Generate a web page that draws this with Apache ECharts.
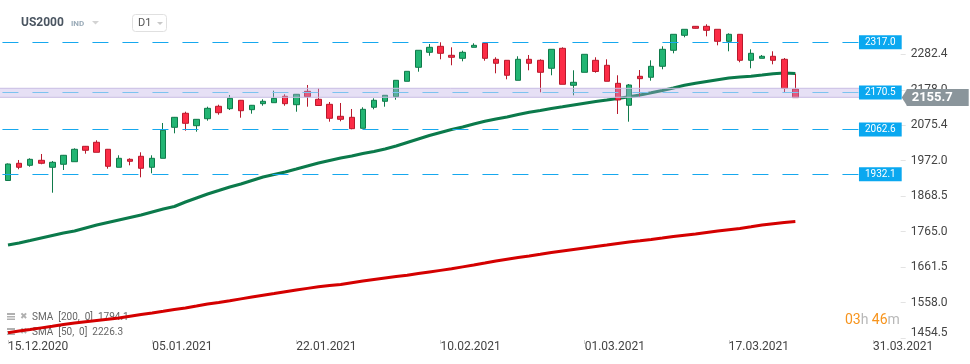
<!DOCTYPE html>
<html><head><meta charset="utf-8">
<script src="https://cdn.jsdelivr.net/npm/echarts@6/dist/echarts.min.js"></script>
<style>html,body{margin:0;padding:0;background:#fff}#c{width:970px;height:364px}</style>
</head><body><div id="c"></div>
<script>
const categories = ['15.12','16.12','17.12','18.12','21.12','22.12','23.12','24.12','28.12','29.12','30.12','31.12',
'04.01','05.01','06.01','07.01','08.01','11.01','12.01','13.01','14.01','15.01','18.01','19.01','20.01','21.01','22.01','25.01','26.01','27.01','28.01','29.01',
'01.02','02.02','03.02','04.02','05.02','08.02','09.02','10.02','11.02','12.02','15.02','16.02','17.02','18.02','19.02','22.02','23.02','24.02','25.02','26.02',
'01.03','02.03','03.03','04.03','05.03','08.03','09.03','10.03','11.03','12.03','15.03','16.03','17.03','18.03','19.03','22.03','23.03','24.03','25.03','26.03','29.03','30.03','31.03',
'01.04','02.04','05.04','06.04','07.04','08.04'];

const opens = [1914.0,1964.2,1958.3,1972.9,1952.5,1961.3,1968.8,2013.7,2025.4,2005.0,
1952.5,1975.8,1984.6,1952.5,1978.7,2069.1,2110.0,2073.8,2094.2,2130.4,
2123.4,2147.9,2120.5,2138.0,2140.9,2159.5,2135.0,2174.1,2150.8,2136.2,
2101.2,2098.3,2066.2,2127.5,2145.0,2158.4,2203.3,2244.1,2287.8,2305.3,
2279.1,2270.3,2302.4,2314.1,2267.4,2264.5,2206.2,2267.4,2264.5,2241.2,
2299.5,2191.6,2229.5,2264.5,2249.9,2197.4,2133.3,2217.9,2215.0,2247.0,
2293.7,2337.4,2363.6,2363.6,2354.9,2319.9,2340.3,2264.5,2270.3,2276.2,
2267.4,2180.8];
const closes = [1962.1,1952.5,1975.8,1964.2,1967.1,1987.5,2005.0,2002.1,1996.2,1955.4,
1978.7,1970.0,1949.6,1978.7,2060.4,2098.3,2080.8,2092.4,2124.5,2111.7,
2153.7,2117.5,2133.3,2145.0,2153.7,2138.0,2165.4,2158.4,2132.7,2095.4,
2092.4,2065.1,2121.6,2147.9,2162.5,2206.2,2232.4,2293.7,2302.4,2284.9,
2273.3,2287.8,2308.2,2270.3,2255.8,2220.8,2267.4,2255.8,2229.5,2296.6,
2194.5,2200.4,2282.0,2231.9,2203.3,2148.8,2192.5,2210.9,2247.0,2296.6,
2340.3,2354.9,2357.8,2352.0,2319.9,2340.3,2264.5,2284.9,2276.2,2264.5,
2182.9,2155.7];
const lows = [1912.5,1946.7,1954.2,1961.3,1878.4,1944.6,1968.8,1992.2,1996.2,1948.4,
1952.5,1958.3,1923.3,1935.0,1978.7,2051.6,2059.2,2056.3,2088.4,2105.9,
2119.6,2097.1,2108.8,2132.1,2140.9,2132.1,2114.6,2129.2,2132.1,2085.5,
2086.6,2063.3,2066.2,2121.6,2129.2,2149.6,2203.3,2231.3,2277.9,2267.4,
2250.0,2261.6,2302.4,2263.3,2226.6,2209.1,2206.2,2235.4,2171.2,2220.8,
2194.5,2162.5,2229.5,2228.3,2203.3,2108.0,2085.5,2158.4,2205.0,2238.3,
2284.9,2331.6,2357.0,2334.5,2308.2,2290.8,2258.7,2241.2,2270.3,2252.8,
2170.0,2155.7];
const highs = [1963.6,1973.8,1978.7,1991.3,1970.9,1988.4,2007.9,2014.6,2031.2,2005.9,
1987.5,1978.7,1996.2,1987.5,2081.7,2099.2,2114.6,2093.3,2129.2,2135.0,
2163.3,2148.8,2134.2,2150.8,2175.9,2165.4,2166.2,2192.5,2182.9,2142.9,
2140.0,2122.5,2127.5,2153.7,2162.5,2206.2,2232.4,2293.7,2312.0,2317.0,
2302.4,2292.5,2314.1,2315.0,2273.3,2264.5,2276.2,2280.0,2267.4,2296.6,
2302.4,2235.4,2282.0,2273.3,2267.4,2220.8,2195.4,2236.2,2264.5,2305.3,
2340.3,2354.9,2364.5,2369.5,2354.9,2343.2,2340.3,2296.6,2280.0,2290.8,
2271.2,2225.4];

const sma50 = [1725.9,1731.8,1739.0,1746.3,1753.6,1760.9,1766.7,1775.5,1784.2,1791.5,
1798.8,1806.1,1813.4,1822.2,1830.9,1838.2,1851.3,1863.0,1874.6,1884.8,
1895.1,1903.8,1914.0,1924.2,1931.5,1938.8,1947.5,1956.3,1965.0,1972.3,
1979.6,1985.4,1992.7,1998.6,2005.9,2014.6,2024.8,2035.0,2045.2,2054.0,
2062.7,2070.0,2078.8,2086.6,2093.3,2099.2,2106.5,2112.9,2118.1,2124.0,
2128.9,2134.2,2139.4,2144.4,2148.7,2153.1,2158.1,2163.3,2169.7,2176.4,
2183.7,2191.6,2197.4,2202.7,2207.9,2212.9,2215.8,2218.1,2221.6,2225.5,
2227.5,2226.3];
const sma200 = [1470.2,1474.9,1479.5,1484.2,1488.9,1493.8,1498.5,1502.3,1505.8,1509.3,
1513.1,1518.3,1523.3,1527.9,1532.6,1537.6,1542.2,1548.0,1553.9,1558.5,
1563.2,1568.8,1574.3,1579.5,1584.5,1589.7,1594.7,1599.4,1604.0,1607.5,
1610.7,1616.0,1620.9,1625.3,1629.7,1633.8,1637.6,1642.5,1647.2,1651.9,
1656.5,1662.1,1667.6,1673.4,1679.3,1684.5,1689.5,1694.1,1698.8,1703.8,
1708.4,1712.8,1717.2,1721.6,1725.9,1730.3,1734.7,1738.2,1742.0,1746.3,
1750.7,1754.5,1758.0,1762.4,1766.7,1770.5,1774.0,1779.0,1784.2,1788.0,
1791.5,1794.1];

const yTickValues = [1454.5, 1558.0, 1661.5, 1765.0, 1868.5, 1972.0, 2075.4, 2178.0, 2282.4];
const xTickIndex = [0, 13, 26, 39, 52, 65, 78];
const xTickLabels = ['15.12.2020','05.01.2021','22.01.2021','10.02.2021','01.03.2021','17.03.2021','31.03.2021'];
const levels = [2317.0, 2170.5, 2062.6, 1932.1];
const zone = [2156.6, 2182.9];
const lastPrice = 2155.7;
const legendRows = [['SMA  [200,  0]  ', 1794.1], ['SMA  [50,  0]  ', 2226.3]];

const Y_MIN = 1448.86, Y_MAX = 2440.36;
const GRID = {left: 2.45, right: 69.3, top: 0, bottom: 24};

const chart = echarts.init(document.getElementById('c'), null, {renderer: 'canvas'});
const F = 'Roboto, "Liberation Sans", sans-serif';

const candleData = opens.map((o, i) => [o, closes[i], lows[i], highs[i]]);

const levelLines = levels.map(v => ({
  yAxis: v,
  lineStyle: {color: v === 2170.5 ? '#7cc3ef' : '#16a8ee', type: [16, 14], width: 1},
  label: {show: true, position: 'end', distance: 1, align: 'right', formatter: v.toFixed(1),
    backgroundColor: '#0aa8f0', color: '#fff', fontSize: 10, fontFamily: F, lineHeight: 10,
    padding: [2, 6, 2, 6]}
}));

const graphics = [
  {type: 'text', x: 21, y: 23, style: {text: 'US2000', fill: '#4a5561', font: 'bold 12px ' + F, verticalAlign: 'middle'}},
  {type: 'text', x: 71, y: 24, style: {text: 'IND', fill: '#9aabb8', font: 'bold 8px ' + F, verticalAlign: 'middle'}},
  {type: 'polygon', shape: {points: [[92, 21], [99, 21], [95.5, 24.5]]}, style: {fill: '#d3d3d3'}},
  {type: 'rect', shape: {x: 132.5, y: 14.5, width: 34, height: 17, r: 3}, style: {fill: '#fff', stroke: '#e0e0e0', lineWidth: 1}},
  {type: 'text', x: 138, y: 23.5, style: {text: 'D1', fill: '#555', font: '11px ' + F, verticalAlign: 'middle'}},
  {type: 'polygon', shape: {points: [[157, 22], [163, 22], [160, 25]]}, style: {fill: '#c8c8c8'}},
  {type: 'text', x: 845, y: 320, style: {
    text: '{o|03}{g|h} {o|46}{g|m}', verticalAlign: 'middle',
    rich: {o: {fill: '#f7941d', font: '14px ' + F}, g: {fill: '#b8b8b8', font: '14px ' + F}}}}
];
legendRows.forEach((r, k) => {
  const y = 317 + k * 15;
  graphics.push({type: 'rect', shape: {x: 7, y: y - 4, width: 8, height: 2}, style: {fill: '#b0b0b0'}});
  graphics.push({type: 'rect', shape: {x: 7, y: y - 1, width: 8, height: 1.5}, style: {fill: '#b0b0b0'}});
  graphics.push({type: 'rect', shape: {x: 7, y: y + 1.5, width: 8, height: 1.5}, style: {fill: '#b0b0b0'}});
  graphics.push({type: 'text', x: 20, y: y, style: {text: '✖', fill: '#b0b0b0', font: '9px "DejaVu Sans"', verticalAlign: 'middle'}});
  graphics.push({type: 'text', x: 32, y: y, style: {text: r[0] + r[1].toFixed(1), fill: '#666', font: '10px ' + F, verticalAlign: 'middle'}});
});

const option = {
  animation: false,
  backgroundColor: '#fff',
  grid: Object.assign({containLabel: false, outerBoundsMode: 'none'}, GRID),
  xAxis: {
    type: 'category', data: categories, boundaryGap: true,
    axisLine: {show: false},
    axisTick: {show: true, alignWithLabel: true, length: 4, interval: (i) => xTickIndex.includes(i), lineStyle: {color: '#cfcfcf'}},
    axisLabel: {interval: (i) => xTickIndex.includes(i), formatter: (v, i) => xTickLabels[xTickIndex.indexOf(i)] || '',
      align: 'left', margin: 1, fontSize: 12, color: '#444', fontFamily: F},
    splitLine: {show: false}
  },
  yAxis: {
    type: 'value', position: 'right', min: Y_MIN, max: Y_MAX, scale: true,
    axisLine: {show: false},
    splitLine: {show: false},
    axisTick: {show: true, length: 5, customValues: yTickValues, lineStyle: {color: '#e3e3e3'}},
    axisLabel: {customValues: yTickValues, margin: 10, fontSize: 12, color: '#444', fontFamily: F, hideOverlap: false,
      formatter: (v) => v === yTickValues[0] ? '{s|' + v.toFixed(1) + '}' : v.toFixed(1),
      rich: {s: {fontSize: 12, color: '#444', fontFamily: F, padding: [0, 0, 10, 0]}}}
  },
  graphic: {elements: graphics},
  series: [
    {
      type: 'candlestick', data: candleData, barWidth: 6, z: 2,
      itemStyle: {color: '#22b573', color0: '#fc2c46', borderColor: '#0f7a4a', borderColor0: '#b8192c', borderWidth: 1},
      markLine: {silent: true, symbol: ['none', 'none'], animation: false, precision: 1, data: levelLines}
    },
    {type: 'line', data: sma200, showSymbol: false, symbol: 'none', z: 2, lineStyle: {color: '#d40000', width: 3}},
    {type: 'line', data: sma50, showSymbol: false, symbol: 'none', z: 2, lineStyle: {color: '#0b7a4b', width: 3}},
    {
      type: 'custom', z: 3, silent: true,
      data: [[0, zone[0], zone[1]]],
      encode: {x: 0, y: [1, 2]},
      renderItem: (params, api) => {
        const cs = params.coordSys;
        const yTop = api.coord([0, api.value(2)])[1];
        const yBot = api.coord([0, api.value(1)])[1];
        const x0 = cs.x - GRID.left, x1 = cs.x + cs.width;
        return {type: 'group', children: [
          {type: 'rect', shape: {x: x0, y: yTop, width: x1 - x0, height: yBot - yTop}, style: {fill: 'rgba(185,170,228,0.36)'}},
          {type: 'line', shape: {x1: x0, y1: yTop, x2: x1, y2: yTop}, style: {stroke: '#c8bde3', lineWidth: 1}},
          {type: 'line', shape: {x1: x0, y1: yBot, x2: x1, y2: yBot}, style: {stroke: '#c8bde3', lineWidth: 1}}
        ]};
      }
    }
  ]
};
chart.setOption(option);

// current-price tag on the right axis, positioned through the y scale
const py = chart.convertToPixel({yAxisIndex: 0}, lastPrice);
const gx = chart.getWidth() - GRID.right;
const zr = chart.getZr();
const tagGroup = new echarts.graphic.Group();
tagGroup.add(new echarts.graphic.Polygon({
  shape: {points: [[gx + 1, py], [gx + 6.5, py - 8.5], [gx + 6.5, py + 8.5]]},
  style: {fill: '#8a959b'}, z: 100
}));
tagGroup.add(new echarts.graphic.Rect({
  shape: {x: gx + 6, y: py - 8.5, width: 62, height: 17},
  style: {fill: '#8a959b'}, z: 100
}));
tagGroup.add(new echarts.graphic.Text({
  style: {text: lastPrice.toFixed(1), x: gx + 11, y: py, fill: '#fff', font: 'bold 13px ' + F, verticalAlign: 'middle', align: 'left'},
  z: 101
}));
zr.add(tagGroup);
</script></body></html>
